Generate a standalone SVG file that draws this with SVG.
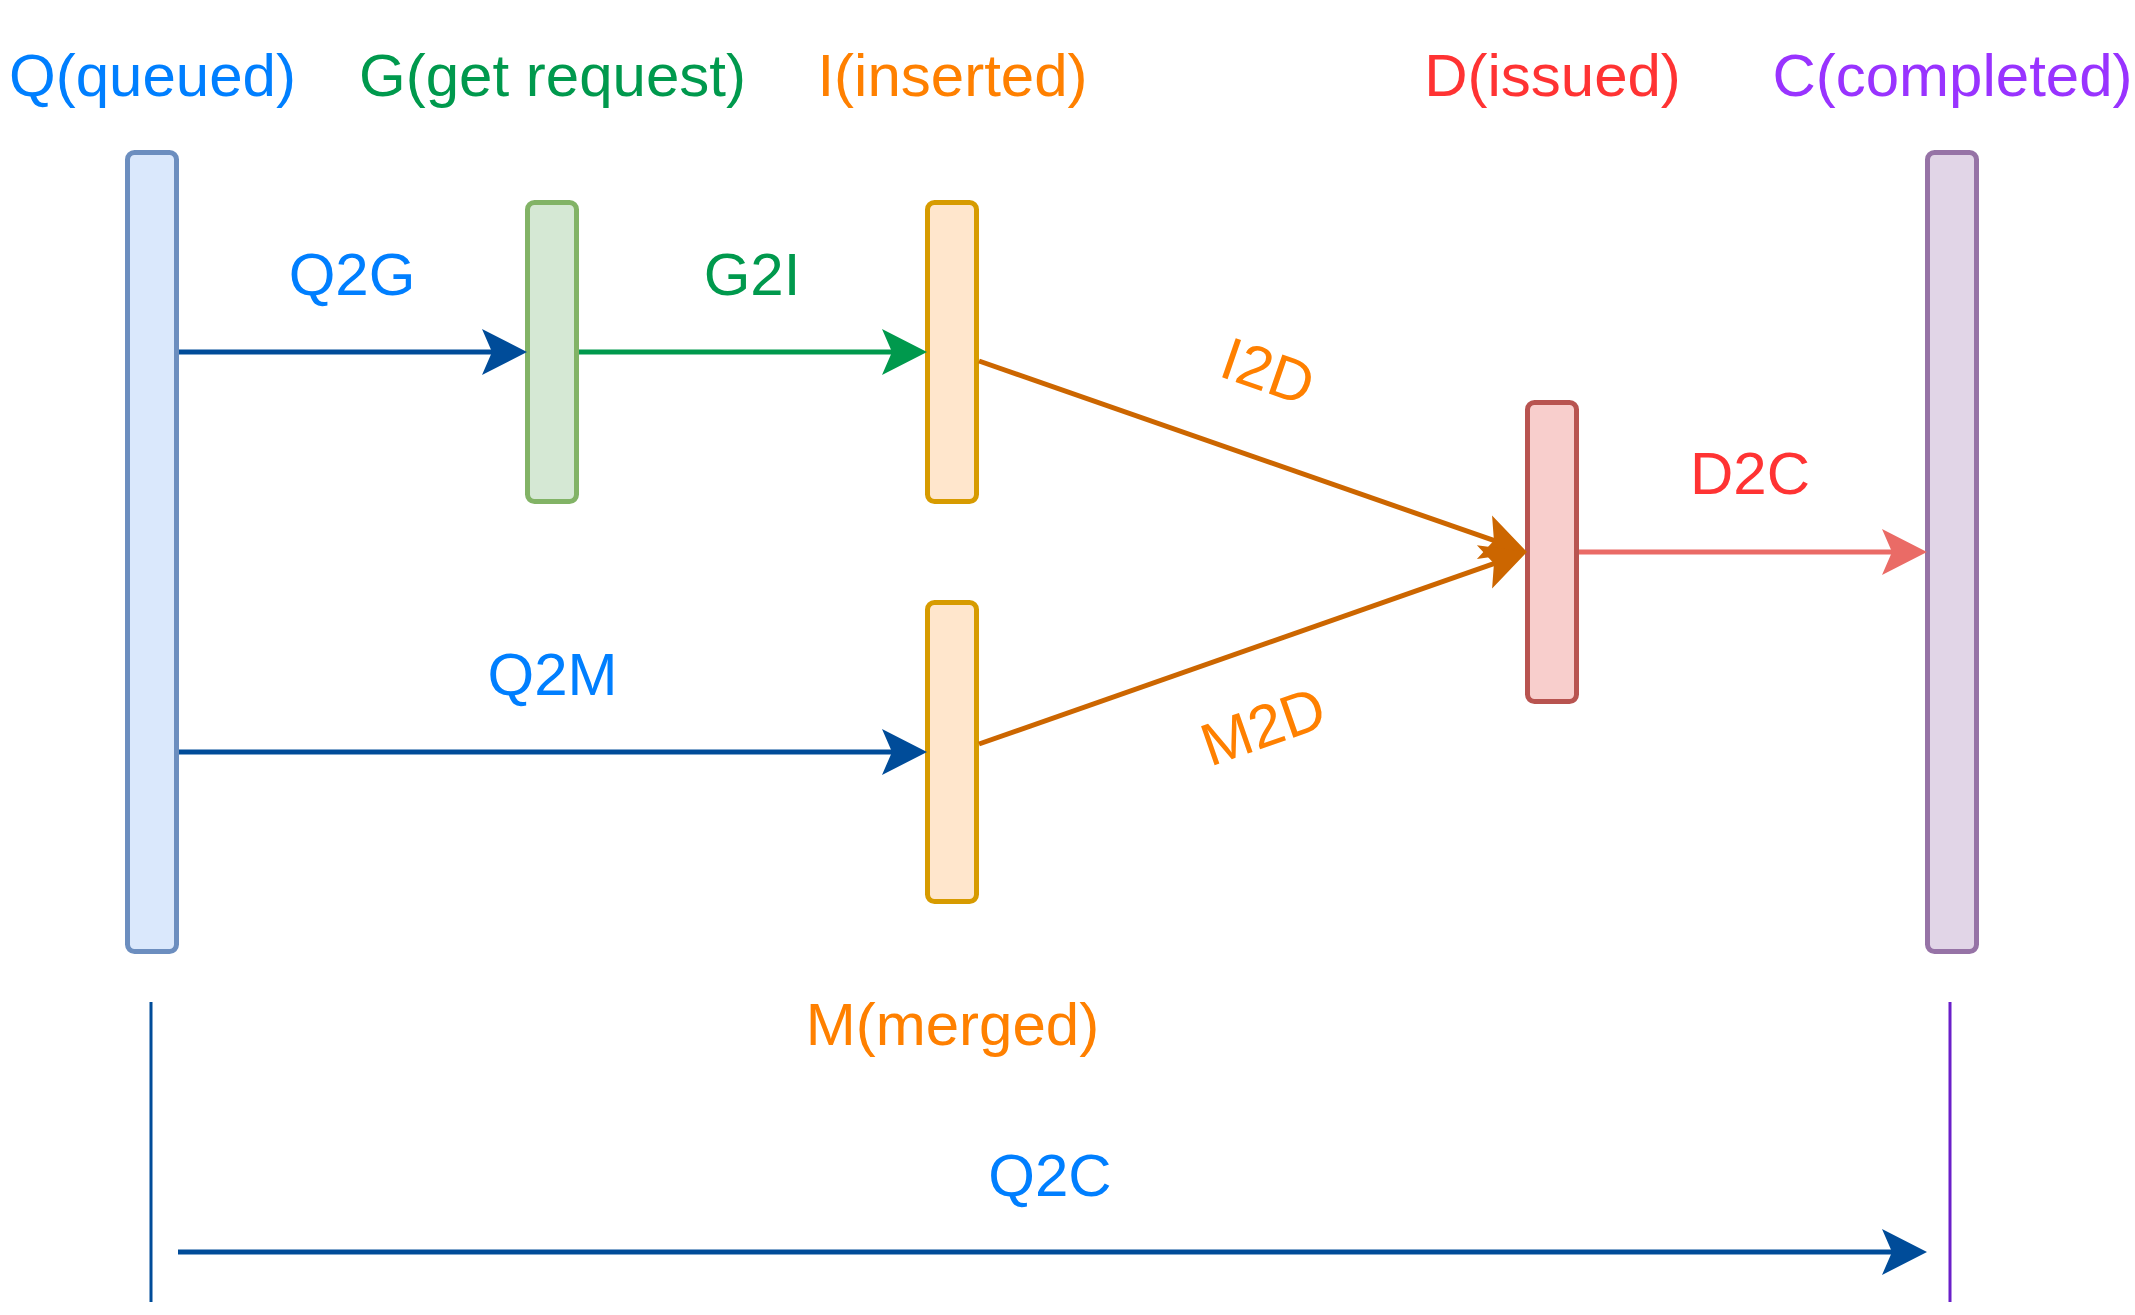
<svg xmlns="http://www.w3.org/2000/svg" width="2135" height="1315" viewBox="0 0 2135 1315">
<style>
text{font-family:"Liberation Sans",Arial,sans-serif;font-size:60px;text-anchor:middle}
.bar{stroke-width:5}
.ln{fill:none;stroke-width:5}
</style>
<defs>
<marker id="aBlue" markerUnits="userSpaceOnUse" viewBox="-26 -24 47 48" markerWidth="47" markerHeight="48" refX="0" refY="0" orient="auto"><path d="M20,0 L-25,-23 L-15,0 L-25,23 Z" fill="#004C99"/></marker>
<marker id="aGreen" markerUnits="userSpaceOnUse" viewBox="-26 -24 47 48" markerWidth="47" markerHeight="48" refX="0" refY="0" orient="auto"><path d="M20,0 L-25,-23 L-15,0 L-25,23 Z" fill="#00994D"/></marker>
<marker id="aOrange" markerUnits="userSpaceOnUse" viewBox="-26 -24 47 48" markerWidth="47" markerHeight="48" refX="0" refY="0" orient="auto"><path d="M20,0 L-25,-23 L-15,0 L-25,23 Z" fill="#CC6600"/></marker>
<marker id="aRed" markerUnits="userSpaceOnUse" viewBox="-26 -24 47 48" markerWidth="47" markerHeight="48" refX="0" refY="0" orient="auto"><path d="M20,0 L-25,-23 L-15,0 L-25,23 Z" fill="#EA6B66"/></marker>
</defs>
<rect width="2135" height="1315" fill="#ffffff"/>
<g id="node-Q">
<rect class="bar" x="127.5" y="152.5" width="49" height="799" rx="7" fill="#dae8fc" stroke="#6c8ebf"/>
<text x="152.5" y="96" fill="#007FFF">Q(queued)</text>
</g>
<g id="node-G">
<rect class="bar" x="527.5" y="202.5" width="49" height="299" rx="7" fill="#d5e8d4" stroke="#82b366"/>
<text x="552.5" y="96" fill="#00994D">G(get request)</text>
</g>
<g id="node-I">
<rect class="bar" x="927.5" y="202.5" width="49" height="299" rx="7" fill="#ffe6cc" stroke="#d79b00"/>
<text x="952.5" y="96" fill="#FF8000">I(inserted)</text>
</g>
<g id="node-M">
<rect class="bar" x="927.5" y="602.5" width="49" height="299" rx="7" fill="#ffe6cc" stroke="#d79b00"/>
<text x="952.5" y="1045" fill="#FF8000">M(merged)</text>
</g>
<g id="node-D">
<rect class="bar" x="1527.5" y="402.5" width="49" height="299" rx="7" fill="#f8cecc" stroke="#b85450"/>
<text x="1552.5" y="96" fill="#FF3333">D(issued)</text>
</g>
<g id="node-C">
<rect class="bar" x="1927.5" y="152.5" width="49" height="799" rx="7" fill="#e1d5e7" stroke="#9673a6"/>
<text x="1952.5" y="96" fill="#9933FF">C(completed)</text>
</g>
<g id="connectors">
<line class="ln" x1="179" y1="352" x2="507" y2="352" stroke="#004C99" marker-end="url(#aBlue)"/>
<text x="352" y="295" fill="#007FFF">Q2G</text>
<line class="ln" x1="579" y1="352" x2="907" y2="352" stroke="#00994D" marker-end="url(#aGreen)"/>
<text x="752" y="295" fill="#00994D">G2I</text>
<line class="ln" x1="179" y1="752" x2="907" y2="752" stroke="#004C99" marker-end="url(#aBlue)"/>
<text x="552.5" y="695" fill="#007FFF">Q2M</text>
<line class="ln" x1="979" y1="361" x2="1508.1" y2="545.4" stroke="#CC6600" marker-end="url(#aOrange)"/>
<text transform="translate(1268,371) rotate(19.1)" x="0" y="21" fill="#FF8000">I2D</text>
<line class="ln" x1="979" y1="744" x2="1508.1" y2="558.6" stroke="#CC6600" marker-end="url(#aOrange)"/>
<text transform="translate(1263,726) rotate(-19.2)" x="0" y="21" fill="#FF8000">M2D</text>
<line class="ln" x1="1579" y1="552" x2="1907" y2="552" stroke="#EA6B66" marker-end="url(#aRed)"/>
<text x="1750" y="494" fill="#FF3333">D2C</text>
<line x1="151" y1="1002" x2="151" y2="1302" stroke="#004C99" stroke-width="3"/>
<line x1="1950" y1="1002" x2="1950" y2="1302" stroke="#6A1FC9" stroke-width="3"/>
<line class="ln" x1="178" y1="1252" x2="1907" y2="1252" stroke="#004C99" marker-end="url(#aBlue)"/>
<text x="1050" y="1196" fill="#007FFF">Q2C</text>
</g>
</svg>
